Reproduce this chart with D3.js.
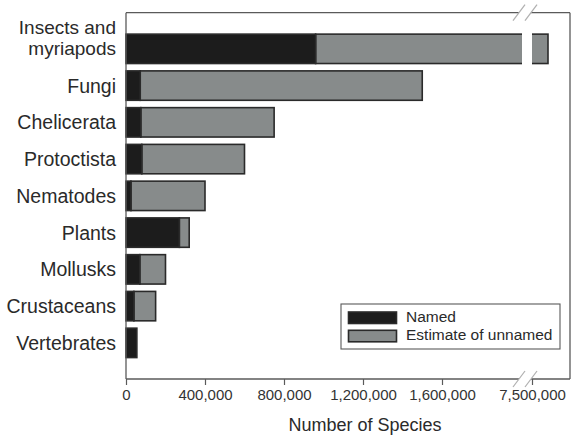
<!DOCTYPE html>
<html><head><meta charset="utf-8">
<script src="https://cdn.jsdelivr.net/npm/d3@7"></script>
<style>
body{margin:0;background:#fff;}
svg{display:block;font-family:"Liberation Sans",Arial,Helvetica,sans-serif;}
</style></head>
<body><svg id="c" width="571" height="435"></svg>
<script>
const categories = [["Insects and","myriapods"],["Fungi"],["Chelicerata"],["Protoctista"],["Nematodes"],["Plants"],["Mollusks"],["Crustaceans"],["Vertebrates"]];
const named =   [960000, 72000, 75000, 80000, 25000, 270000, 70000, 40000, 55000];
const unnamed = [6620000, 1428000, 675000, 520000, 375000, 50000, 130000, 110000, 0];
const ticksLow = [0, 400000, 800000, 1200000, 1600000];
const ticksHigh = [7500000];
const legendLabels = ["Named", "Estimate of unnamed"];

(function(){
const svg = d3.select("#c");
const pLeft = 126, pRight = 570, pTop = 12.7, pBottom = 379;
const x1 = d3.scaleLinear().domain([0, 2000000]).range([pLeft, 521]);
const x2 = d3.scaleLinear().domain([7500000, 7690000]).range([532, pRight]);
const xp = v => v <= 2000000 ? x1(v) : x2(v);
const keys = categories.map((c,i)=>i);
const y = d3.scaleBand().domain(keys).range([pTop, pBottom]).paddingInner(0.2).paddingOuter(0.583);

const darkFill = "#1c1c1c", grayFill = "#878b8b", outline = "#2a2a2a", frame = "#5a5a5a";

// bars
const g = svg.append("g");
keys.forEach(i => {
  const y0 = y(i), h = y.bandwidth();
  const tot = named[i] + unnamed[i];
  if (unnamed[i] > 0) {
    g.append("rect").attr("x", xp(named[i])).attr("y", y0).attr("width", xp(tot) - xp(named[i])).attr("height", h)
      .attr("fill", grayFill).attr("stroke", outline).attr("stroke-width", 1.6);
  }
  g.append("rect").attr("x", xp(0)).attr("y", y0).attr("width", xp(named[i]) - xp(0)).attr("height", h)
    .attr("fill", darkFill).attr("stroke", outline).attr("stroke-width", 1.6);
  if (tot > 2000000) {
    g.append("rect").attr("x", x1.range()[1] + 1).attr("y", y0 - 2).attr("width", x2.range()[0] - x1.range()[1] - 1).attr("height", h + 4)
      .attr("fill", "#fff");
  }
});

// frame
const fr = svg.append("g").attr("stroke", frame).attr("stroke-width", 1.3).attr("fill", "none");
fr.append("line").attr("x1", pLeft).attr("x2", pLeft).attr("y1", pTop).attr("y2", pBottom);
fr.append("line").attr("x1", pRight).attr("x2", pRight).attr("y1", pTop).attr("y2", pBottom);
fr.append("line").attr("x1", pLeft).attr("x2", 519).attr("y1", pTop).attr("y2", pTop);
fr.append("line").attr("x1", 531).attr("x2", pRight).attr("y1", pTop).attr("y2", pTop);

// x axes
const fmt = d3.format(",");
const ax1 = svg.append("g").attr("transform", `translate(0,${pBottom})`)
  .call(d3.axisBottom(x1).tickValues(ticksLow).tickFormat(fmt).tickSizeOuter(0).tickSize(6).tickPadding(4));
const ax2 = svg.append("g").attr("transform", `translate(0,${pBottom})`)
  .call(d3.axisBottom(x2).tickValues(ticksHigh).tickFormat(fmt).tickSizeOuter(0).tickSize(6).tickPadding(4));
[ax1, ax2].forEach(a => {
  a.select(".domain").attr("stroke", frame).attr("stroke-width", 1.3);
  a.selectAll(".tick line").attr("stroke", frame).attr("stroke-width", 1.2);
  a.selectAll(".tick text").attr("font-size", 15).attr("fill", "#333").attr("font-family", "Liberation Sans, Arial, sans-serif");
});
ax1.select(".domain").attr("d", `M${pLeft},0H519`);
ax2.select(".domain").attr("d", `M531,0H${pRight}`);

// break marks
[pTop, pBottom].forEach(yy => {
  [519, 531].forEach(xx => {
    svg.append("line").attr("x1", xx - 6).attr("y1", yy + 8).attr("x2", xx + 6).attr("y2", yy - 8)
      .attr("stroke", "#b0b0b0").attr("stroke-width", 1.2);
  });
});

// category labels
keys.forEach(i => {
  const c = categories[i];
  const cy = y(i) + y.bandwidth() / 2;
  if (c.length === 1) {
    svg.append("text").attr("text-anchor", "end").attr("font-size", 19.5).attr("fill", "#2a2a2a")
      .attr("x", 116).attr("y", cy + 7).text(c[0]);
  } else {
    svg.append("text").attr("text-anchor", "end").attr("font-size", 19).attr("fill", "#2a2a2a")
      .attr("x", 116).attr("y", cy - 15).text(c[0]);
    svg.append("text").attr("text-anchor", "end").attr("font-size", 19).attr("fill", "#2a2a2a")
      .attr("x", 116).attr("y", cy + 6).text(c[1]);
  }
});

// axis title
svg.append("text").attr("x", 365).attr("y", 431).attr("text-anchor", "middle").attr("font-size", 18).attr("fill", "#2a2a2a").text("Number of Species");

// legend
const lg = svg.append("g");
lg.append("rect").attr("x", 341).attr("y", 304).attr("width", 219).attr("height", 45).attr("fill", "#fff").attr("stroke", frame).attr("stroke-width", 1.1);
const lfills = [darkFill, grayFill];
legendLabels.forEach((l, i) => {
  lg.append("rect").attr("x", 348.5).attr("y", 312 + i * 18.3).attr("width", 48).attr("height", 11.5)
    .attr("fill", lfills[i]).attr("stroke", outline).attr("stroke-width", 1.6);
  lg.append("text").attr("x", 406).attr("y", 322 + i * 18.3).attr("font-size", 15.5).attr("fill", "#2a2a2a").text(l);
});
})();
</script></body></html>
